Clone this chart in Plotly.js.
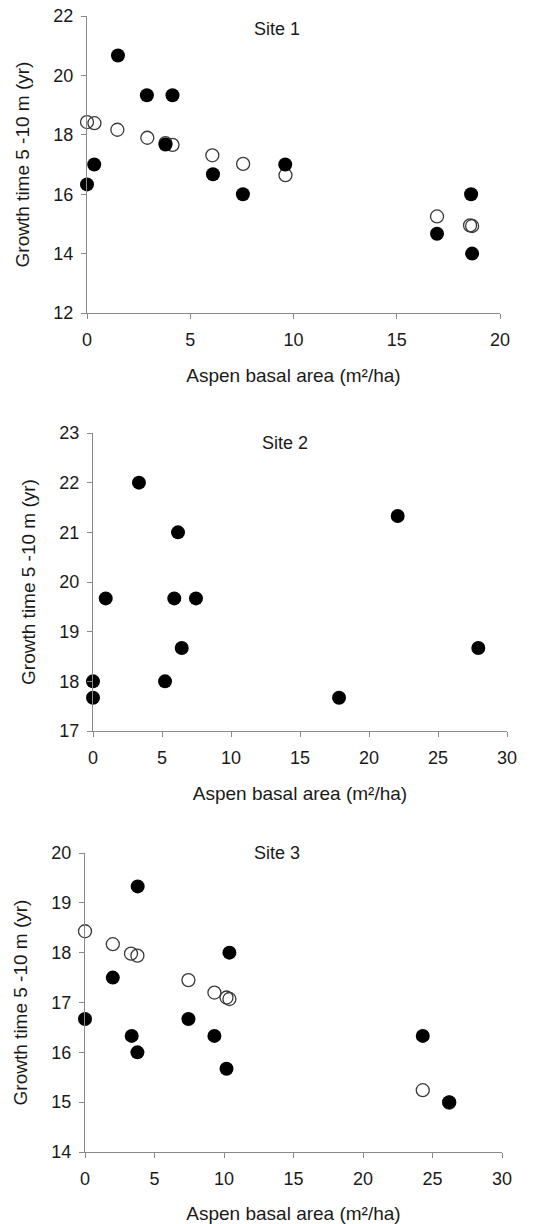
<!DOCTYPE html>
<html>
<head>
<meta charset="utf-8">
<script src="https://cdn.plot.ly/plotly-3.0.1.min.js"></script>
<style>
html,body{margin:0;padding:0;background:#fff;}
#chart{width:537px;height:1224px;}
</style>
</head>
<body>
<div id="chart"></div>
<script>
// Site 1
const site1ObservedX = [0, 0.35, 1.5, 2.9, 3.8, 4.14, 6.1, 7.55, 9.6, 16.95, 18.6, 18.65];
const site1ObservedY = [16.33, 17.0, 20.67, 19.33, 17.67, 19.33, 16.67, 16.0, 17.0, 14.67, 16.0, 14.0];
const site1PredictedX = [0, 0.36, 1.47, 2.92, 3.8, 4.14, 6.07, 7.56, 9.61, 16.95, 18.55, 18.65];
const site1PredictedY = [18.43, 18.39, 18.17, 17.9, 17.72, 17.66, 17.31, 17.02, 16.64, 15.25, 14.95, 14.93];
// Site 2
const site2ObservedX = [0, 0, 0.92, 3.33, 5.22, 5.89, 6.16, 6.43, 7.46, 17.83, 22.08, 27.92];
const site2ObservedY = [18.0, 17.67, 19.67, 22.0, 18.0, 19.67, 21.0, 18.67, 19.67, 17.67, 21.33, 18.67];
// Site 3
const site3ObservedX = [0, 2.0, 3.36, 3.77, 3.79, 7.44, 9.31, 10.18, 10.39, 24.3, 26.2];
const site3ObservedY = [16.67, 17.5, 16.33, 16.0, 19.33, 16.67, 16.33, 15.67, 18.0, 16.33, 15.0];
const site3PredictedX = [0, 2.0, 3.31, 3.77, 7.44, 9.31, 10.18, 10.39, 24.3, 26.2];
const site3PredictedY = [18.43, 18.17, 17.98, 17.94, 17.45, 17.2, 17.1, 17.07, 15.24, 14.99];

const siteTitles = ["Site 1", "Site 2", "Site 3"];
const xTitle = "Aspen basal area (m²/ha)";
const yTitle = "Growth time 5 -10 m (yr)";

const W = 537, H = 1224;
const FONT = "Liberation Sans, Arial, sans-serif";

const filledMarker = {symbol: "circle", size: 14, color: "#000"};
const openMarker = {symbol: "circle-open", size: 13, color: "#3a3a3a", line: {width: 1.3, color: "#3a3a3a"}};

function tr(x, y, xa, ya, marker) {
  return {x: x, y: y, xaxis: xa, yaxis: ya, type: "scatter", mode: "markers",
          marker: marker, cliponaxis: false, showlegend: false, hoverinfo: "x+y"};
}

const data = [
  tr(site1PredictedX, site1PredictedY, "x", "y", openMarker),
  tr(site1ObservedX, site1ObservedY, "x", "y", filledMarker),
  tr(site2ObservedX, site2ObservedY, "x2", "y2", filledMarker),
  tr(site3PredictedX, site3PredictedY, "x3", "y3", openMarker),
  tr(site3ObservedX, site3ObservedY, "x3", "y3", filledMarker)
];

// panel pixel boxes [left, right, top, bottom]
const boxes = [[87, 500, 16, 313], [93, 507, 433, 731], [85, 502, 853, 1152]];
const yRanges = [[12, 22], [17, 23], [14, 20]];
const yDticks = [2, 1, 1];
const xRanges = [[0, 20], [0, 30], [0, 30]];

function xAxis(i) {
  const b = boxes[i];
  return {
    domain: [b[0] / W, b[1] / W], range: xRanges[i], dtick: 5, tick0: 0,
    anchor: i === 0 ? "y" : "y" + (i + 1),
    showline: true, linecolor: "#8a8a8a", linewidth: 1,
    ticks: "outside", ticklen: 5, tickcolor: "#8a8a8a", tickwidth: 1,
    showgrid: false, zeroline: false, fixedrange: true,
    ticklabelstandoff: 5,
    tickfont: {family: FONT, size: 18, color: "#1a1a1a"},
    title: {text: xTitle, font: {family: FONT, size: 19, color: "#1a1a1a"}, standoff: 20}
  };
}
function yAxis(i) {
  const b = boxes[i];
  return {
    domain: [1 - b[3] / H, 1 - b[2] / H], range: yRanges[i], dtick: yDticks[i],
    anchor: i === 0 ? "x" : "x" + (i + 1),
    showline: true, linecolor: "#8a8a8a", linewidth: 1,
    ticks: "outside", ticklen: 5, tickcolor: "#8a8a8a", tickwidth: 1,
    showgrid: false, zeroline: false, fixedrange: true,
    ticklabelstandoff: 4,
    tickfont: {family: FONT, size: 18, color: "#1a1a1a"},
    title: {text: yTitle, font: {family: FONT, size: 19, color: "#1a1a1a"}, standoff: 18}
  };
}

const titlePos = [[277, 29], [285, 443], [277, 853]];
const annotations = siteTitles.map((t, i) => ({
  text: t, xref: "paper", yref: "paper",
  x: titlePos[i][0] / W, y: 1 - titlePos[i][1] / H,
  xanchor: "center", yanchor: "middle", showarrow: false,
  font: {family: FONT, size: 18, color: "#1a1a1a"}
}));

const layout = {
  width: W, height: H,
  margin: {l: 0, r: 0, t: 0, b: 0},
  paper_bgcolor: "#fff", plot_bgcolor: "#fff",
  showlegend: false,
  xaxis: xAxis(0), yaxis: yAxis(0),
  xaxis2: xAxis(1), yaxis2: yAxis(1),
  xaxis3: xAxis(2), yaxis3: yAxis(2),
  annotations: annotations
};

Plotly.newPlot("chart", data, layout, {displayModeBar: false, staticPlot: true});
</script>
</body>
</html>
